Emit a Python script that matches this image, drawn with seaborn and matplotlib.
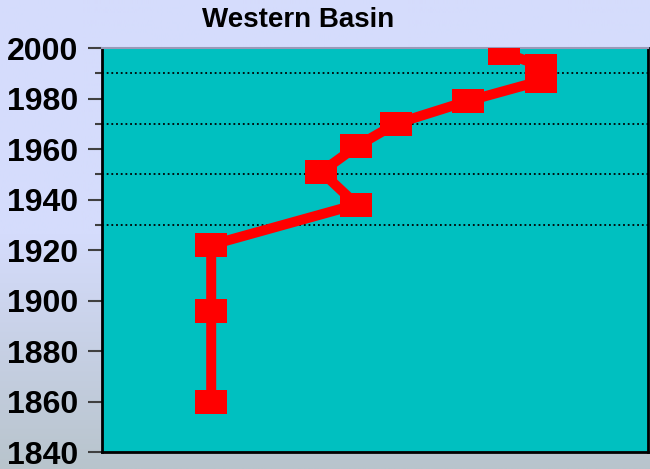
import numpy as np
import pandas as pd
import matplotlib
matplotlib.use("Agg")
import matplotlib.pyplot as plt
import seaborn as sns

# Data: year of each observation and its horizontal position on the index scale
years = [1860, 1896, 1922, 1938, 1951, 1961, 1970, 1979, 1987, 1993, 1998]
index_values = [20.0, 20.0, 20.0, 46.6, 40.2, 46.6, 53.8, 67.0, 80.4, 80.4, 73.7]
year_ticks = [1840, 1860, 1880, 1900, 1920, 1940, 1960, 1980, 2000]
grid_years = [1930, 1950, 1970, 1990]
title = "Western Basin"

df = pd.DataFrame({"year": years, "value": index_values})

sns.set_theme(style="white")
plt.rcParams["font.family"] = ["Liberation Sans", "DejaVu Sans"]

W, H, DPI = 650, 469, 100
fig = plt.figure(figsize=(W / DPI, H / DPI), dpi=DPI)

# Soft vertical gradient behind everything
bg = fig.add_axes([0, 0, 1, 1], zorder=-10)
rows = np.linspace(0, 1, H)
top = np.array([213, 220, 252]) / 255
bot = np.array([184, 196, 204]) / 255
t = np.clip((rows - 0.5) / 0.5, 0, 1)[:, None]
grad = (1 - t) * top + t * bot
bg.imshow(np.repeat(grad[:, None, :], 4, axis=1), aspect="auto", extent=[0, 1, 1, 0])
bg.set_axis_off()

ax = fig.add_axes([102 / W, 1 - 452 / H, 546 / W, 404 / H])
ax.set_facecolor("#00C0C0")

# Rectangular marker, wider than tall
rect = [(-1, -0.75), (1, -0.75), (1, 0.75), (-1, 0.75), (-1, -0.75)]

sns.lineplot(data=df, x="value", y="year", orient="y", estimator=None, sort=True,
             color="#FF0000", linewidth=7.2, marker=rect, markersize=23,
             markeredgewidth=0, markerfacecolor="#FF0000", ax=ax, zorder=3,
             solid_joinstyle="miter")

ax.set_xlim(0, 100)
ax.set_ylim(1840, 2000)
ax.set_xticks([])
ax.set_yticks(year_ticks)
ax.set_yticklabels([str(y) for y in year_ticks], fontsize=23, fontweight="bold", color="black")
ax.set_yticks(grid_years, minor=True)
ax.tick_params(axis="y", which="major", length=10, width=1.5, color="#404040", pad=7, direction="out", left=True)
ax.tick_params(axis="y", which="minor", length=5, width=1.5, color="#404040", direction="out", left=True)
ax.grid(False)
for gy in grid_years:
    ax.axhline(gy, color="black", linestyle=(0, (1.0, 1.6)), linewidth=1.3, zorder=1)
ax.set_xlabel("")
ax.set_ylabel("")

for side in ["left", "bottom", "right"]:
    ax.spines[side].set_color("black")
    ax.spines[side].set_linewidth(2)
ax.spines["top"].set_color("#9A9AB8")
ax.spines["top"].set_linewidth(1.5)

fig.text(298 / W, 1 - 20 / H, title, ha="center", va="center",
         fontsize=20, fontweight="bold", color="black")

fig.savefig("out.png", dpi=DPI)
